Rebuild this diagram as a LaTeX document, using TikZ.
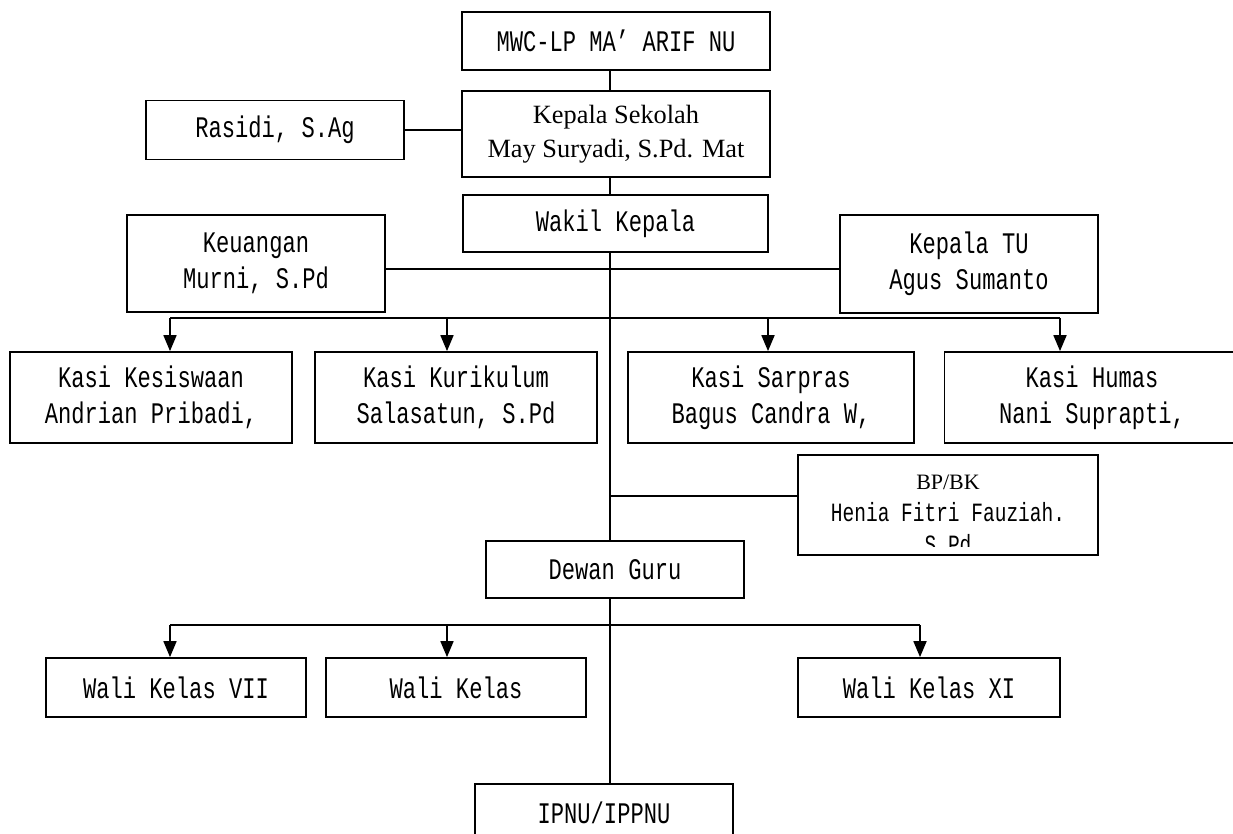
\documentclass[tikz,border=0pt]{standalone}
\usepackage{fontspec}
\setmainfont{Liberation Serif}
\newfontfamily\simfont[FakeStretch=0.74]{Liberation Mono}
\usetikzlibrary{arrows.meta,positioning}

\begin{document}
\begin{tikzpicture}[
  x=0.02cm, y=-0.02cm,
  every node/.style={font=\simfont\fontsize{17}{20.4}\selectfont},
  box/.style={draw, line width=1pt, align=center, inner sep=0pt},
  link/.style={line width=1pt},
  arrow/.style={-{Triangle[length=0.32cm,width=0.26cm]}, line width=1pt}
]
\useasboundingbox (0,0) rectangle (1233,834);

%% Top of the chart
\node[box, minimum width=6.16cm, minimum height=1.16cm] (mwc) at (616,41)
  {MWC-LP MA’ ARIF NU};
\node[box, minimum width=6.16cm, minimum height=1.72cm,
      font=\fontsize{15}{19.3}\selectfont] (head) at (616,134)
  {Kepala Sekolah\\May Suryadi, S.Pd. Mat};
\node[box, minimum width=6.1cm, minimum height=1.14cm] (wakil) at (615.5,223.5)
  {Wakil Kepala};
\node[box, minimum width=5.16cm, minimum height=1.18cm] (rasidi) at (275,130)
  {Rasidi, S.Ag};

%% Keuangan and Kepala TU
\node[box, minimum width=5.16cm, minimum height=1.94cm] (keu) at (256,263.5)
  {Keuangan\\Murni, S.Pd};
\node[box, minimum width=5.16cm, minimum height=1.96cm] (tu) at (969,264)
  {Kepala TU\\Agus Sumanto};

%% Kasi row
\node[box, minimum width=5.64cm, minimum height=1.82cm] (kasi1) at (151,397.5)
  {Kasi Kesiswaan\\Andrian Pribadi,};
\node[box, minimum width=5.64cm, minimum height=1.82cm] (kasi2) at (456,397.5)
  {Kasi Kurikulum\\Salasatun, S.Pd};
\node[box, minimum width=5.72cm, minimum height=1.82cm] (kasi3) at (771,397.5)
  {Kasi Sarpras\\Bagus Candra W,};
\node[box, minimum width=5.9cm, minimum height=1.82cm] (kasi4) at (1092,397.5)
  {Kasi Humas\\Nani Suprapti,};

%% BP/BK (text runs past the box)
\node[box, minimum width=6cm, minimum height=2cm] (bpbk) at (948,505) {};
\begin{scope}
  \clip (bpbk.north west) rectangle ([yshift=0.18cm]bpbk.south east);
  \node[anchor=north, align=center, inner sep=0pt,
        font=\simfont\fontsize{15}{18}\selectfont] (bptext) at (948,475)
    {{\rmfamily\fontsize{12.5}{18}\selectfont BP/BK}\\Henia Fitri Fauziah.\\S.Pd};
\end{scope}

%% Dewan Guru and Wali Kelas
\node[box, minimum width=5.16cm, minimum height=1.14cm] (dewan) at (615,569.5)
  {Dewan Guru};
\node[box, minimum width=5.2cm, minimum height=1.18cm] (wali1) at (176,687.5)
  {Wali Kelas VII};
\node[box, minimum width=5.2cm, minimum height=1.18cm] (wali2) at (456,687.5)
  {Wali Kelas};
\node[box, minimum width=5.24cm, minimum height=1.18cm] (wali3) at (929,687.5)
  {Wali Kelas XI};
\node[box, minimum width=5.16cm, minimum height=1.16cm] (ipnu) at (604,813)
  {IPNU/IPPNU};

%% Helper coordinates
\coordinate (spine) at (610,0);
\coordinate (mid) at (0,269);
\coordinate (bp) at (610,496);
\coordinate (k1) at (170,318);
\coordinate (k2) at (447,318);
\coordinate (k3) at (768,318);
\coordinate (k4) at (1060,318);
\coordinate (w1) at (170,625);
\coordinate (w2) at (447,625);
\coordinate (w3) at (920,625);

%% Main vertical line
\draw[link] (mwc.south -| spine) -- (head.north -| spine);
\draw[link] (head.south -| spine) -- (wakil.north -| spine);
\draw[link] (wakil.south -| spine) -- (dewan.north -| spine);
\draw[link] (dewan.south -| spine) -- (ipnu.north -| spine);

%% Side links
\draw[link] (rasidi.east) -- (rasidi.east -| head.west);
\draw[link] (keu.east |- mid) -- (tu.west |- mid);
\draw[link] (bp) -- (bp -| bpbk.west);

%% Arrows to Kasi
\draw[link] (k1) -- (k4);
\foreach \c/\n in {k1/kasi1, k2/kasi2, k3/kasi3, k4/kasi4}
  \draw[arrow] (\c) -- (\c |- \n.north);

%% Arrows to Wali Kelas
\draw[link] (w1) -- (w3);
\foreach \c/\n in {w1/wali1, w2/wali2, w3/wali3}
  \draw[arrow] (\c) -- (\c |- \n.north);

\end{tikzpicture}
\end{document}
